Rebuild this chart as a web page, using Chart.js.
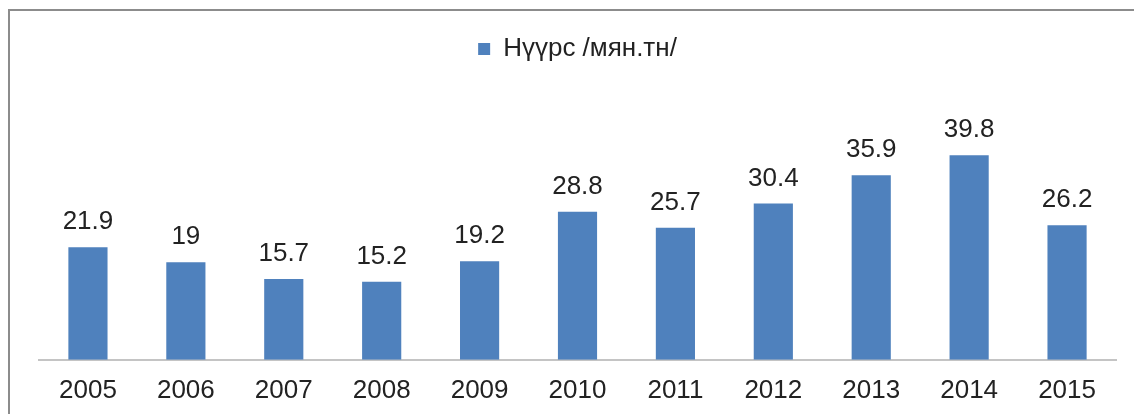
<!DOCTYPE html>
<html>
<head>
<meta charset="utf-8">
<script src="https://cdn.jsdelivr.net/npm/chart.js@4/dist/chart.umd.min.js"></script>
<style>
  html, body { margin: 0; padding: 0; background: #fff; overflow: hidden; }
  #frame {
    position: absolute; left: 8px; top: 9px; width: 1200px; height: 500px;
    border-top: 2px solid #8c8c8c; border-left: 2px solid #8c8c8c;
  }
  #wrap { position: absolute; left: 0; top: 0; width: 1134px; height: 414px; }
</style>
</head>
<body>
<div id="frame"></div>
<div id="wrap"><canvas id="myChart"></canvas></div>
<script>
const years = ['2005', '2006', '2007', '2008', '2009', '2010', '2011', '2012', '2013', '2014', '2015'];
const coal = [21.9, 19, 15.7, 15.2, 19.2, 28.8, 25.7, 30.4, 35.9, 39.8, 26.2];
const seriesName = 'Нүүрс /мян.тн/';

// value labels above bars
const barLabels = {
    id: 'barLabels',
    afterDatasetsDraw(chart) {
        const ctx = chart.ctx;
        ctx.save();
        ctx.font = '26px "Liberation Sans", Arial, sans-serif';
        ctx.fillStyle = '#222';
        ctx.textAlign = 'center';
        ctx.textBaseline = 'alphabetic';
        chart.getDatasetMeta(0).data.forEach((bar, i) => {
            ctx.fillText(String(coal[i]), bar.x, bar.y - 18);
        });
        ctx.restore();
    }
};

const ctx = document.getElementById('myChart').getContext('2d');
const myChart = new Chart(ctx, {
    type: 'bar',
    data: {
        labels: years,
        datasets: [{
            label: seriesName,
            data: coal,
            backgroundColor: '#4f81bd',
            borderWidth: 0,
            categoryPercentage: 1,
            barPercentage: 0.4
        }]
    },
    options: {
        responsive: true,
        maintainAspectRatio: false,
        animation: false,
        layout: {
            padding: { left: 39, right: 18, top: 26, bottom: -7 }
        },
        scales: {
            x: {
                grid: { display: false, drawTicks: false },
                border: { display: true, color: '#c4c4c4', width: 2 },
                ticks: {
                    padding: 15,
                    color: '#222',
                    font: { family: '"Liberation Sans", Arial, sans-serif', size: 26 }
                }
            },
            y: {
                display: false,
                min: 0,
                max: 56
            }
        },
        plugins: {
            legend: {
                position: 'top',
                labels: {
                    boxWidth: 12,
                    boxHeight: 12,
                    color: '#222',
                    font: { family: '"Liberation Sans", Arial, sans-serif', size: 26 }
                }
            },
            tooltip: { enabled: false }
        }
    },
    plugins: [barLabels]
});
</script>
</body>
</html>
